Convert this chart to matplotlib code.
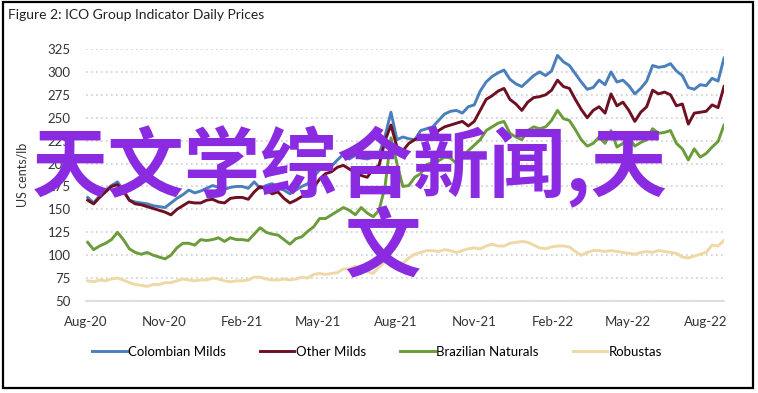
import pandas as pd
import matplotlib
matplotlib.use("Agg")
import matplotlib.pyplot as plt
import matplotlib.dates as mdates
from matplotlib.patches import Rectangle

# weekly readings of the ICO group indicator prices (US cents/lb)
start_date = "2020-08-03"

colombian = [163, 157, 165, 171, 176, 180, 171, 160, 158, 157, 156, 154, 153, 152, 157, 162,
             166, 171, 168, 170, 173, 176, 174, 172, 174, 175, 175, 173, 180, 173, 176, 178,
             174, 171, 167, 171, 175, 178, 186, 193, 199, 197, 204, 210, 205, 209, 206, 205,
             207, 210, 230, 256, 226, 229, 227, 226, 236, 238, 240, 247, 254, 257, 258, 255,
             262, 264, 279, 289, 295, 299, 302, 292, 287, 284, 290, 296, 300, 296, 301, 318,
             311, 307, 298, 289, 281, 283, 291, 286, 300, 289, 291, 285, 276, 282, 290, 307,
             305, 306, 309, 301, 296, 283, 281, 286, 285, 293, 290, 315]

other_milds = [160, 156, 163, 169, 175, 177, 170, 160, 156, 155, 153, 151, 149, 147, 144, 150,
               154, 158, 157, 157, 160, 161, 158, 157, 162, 163, 163, 161, 169, 175, 172, 167,
               169, 162, 157, 160, 164, 167, 174, 183, 189, 191, 196, 198, 194, 190, 187, 185,
               194, 198, 225, 242, 218, 214, 222, 226, 229, 228, 230, 236, 240, 242, 244, 246,
               241, 246, 258, 270, 274, 279, 282, 270, 265, 258, 267, 272, 273, 275, 280, 291,
               284, 282, 270, 259, 250, 258, 262, 255, 276, 263, 267, 258, 246, 256, 262, 280,
               276, 278, 275, 263, 265, 243, 255, 256, 257, 264, 261, 284]

brazilian = [114, 106, 110, 113, 117, 125, 117, 107, 103, 101, 103, 100, 98, 96, 100, 108,
             113, 113, 111, 117, 116, 117, 119, 115, 119, 117, 117, 116, 123, 130, 125, 123,
             122, 117, 112, 118, 120, 126, 131, 140, 140, 144, 148, 152, 149, 144, 152, 146,
             142, 149, 175, 228, 200, 175, 176, 185, 189, 199, 201, 203, 207, 206, 200, 208,
             214, 220, 226, 236, 240, 244, 246, 233, 229, 226, 236, 240, 238, 240, 247, 258,
             249, 247, 237, 226, 219, 222, 229, 222, 236, 218, 222, 229, 219, 223, 226, 238,
             233, 234, 236, 222, 216, 204, 216, 207, 211, 218, 224, 242]

robustas = [72, 71, 73, 72, 74, 75, 73, 70, 68, 67, 66, 68, 68, 70, 70, 72,
            74, 73, 72, 73, 73, 75, 74, 72, 71, 72, 72, 73, 76, 76, 74, 73,
            73, 74, 73, 74, 76, 75, 79, 80, 79, 80, 81, 85, 85, 88, 84, 82,
            80, 87, 93, 97, 93, 91, 97, 101, 103, 105, 105, 104, 106, 105, 103, 105,
            107, 108, 107, 110, 112, 110, 110, 113, 114, 115, 114, 111, 108, 107, 109, 110,
            110, 109, 104, 100, 103, 105, 105, 104, 105, 104, 103, 102, 101, 103, 104, 103,
            105, 104, 103, 102, 98, 97, 99, 101, 103, 111, 110, 116]

series_names = ["Colombian Milds", "Other Milds", "Brazilian Naturals", "Robustas"]
series_colors = ["#4a7fbc", "#6e0f22", "#6b9c3a", "#efd8a6"]

plt.rcParams["font.family"] = ["Lato", "DejaVu Sans"]

dates = pd.date_range(start_date, periods=len(colombian), freq="7D")

fig = plt.figure(figsize=(7.58, 3.93), dpi=100)
ax = fig.add_axes([86 / 758, 1 - 301 / 393, (724 - 86) / 758, (301 - 49) / 393])

for vals, name, col in zip([colombian, other_milds, brazilian, robustas], series_names, series_colors):
    ax.plot(dates, vals, color=col, linewidth=2.1, label=name)

ax.set_ylim(50, 325)
ax.set_yticks(range(50, 326, 25))
ax.set_xlim(pd.Timestamp("2020-08-01"), dates[-1])
ax.xaxis.set_major_locator(mdates.MonthLocator(bymonth=[2, 5, 8, 11]))
ax.xaxis.set_major_formatter(mdates.DateFormatter("%b-%y"))

ax.grid(axis="y", color="#d0d0d0", linestyle=(0, (1, 2)), linewidth=1.2)
ax.set_axisbelow(True)
for s in ["top", "right", "left"]:
    ax.spines[s].set_visible(False)
ax.spines["bottom"].set_color("#d9d9d9")
ax.spines["bottom"].set_linewidth(1.2)
ax.tick_params(axis="both", length=0, labelsize=9.5, colors="#333333")
ax.tick_params(axis="y", pad=11)
ax.tick_params(axis="x", pad=11)
ax.set_ylabel("US cents/lb", fontsize=9, color="#333333", labelpad=14)

fig.text(8 / 758, 1 - 15 / 393, "Figure 2: ICO Group Indicator Daily Prices",
         fontsize=10, color="#222222", va="center", ha="left")

fig.legend(loc="center", bbox_to_anchor=(377 / 758, 1 - 352 / 393), ncol=4, frameon=False,
           fontsize=9.5, handlelength=2.6, handletextpad=0.1, columnspacing=2.6)

# outer frame
fig.add_artist(Rectangle((3 / 758, 5 / 393), 750 / 758, 386 / 393, transform=fig.transFigure,
                         fill=False, edgecolor="black", linewidth=1.6))

# purple overlay text
cjk = ["Noto Sans CJK SC", "DejaVu Sans"]
fig.text(32 / 758, 1 - 167 / 393, "天文学综合新闻,天", family=cjk, fontsize=55,
         fontweight="bold", color="#8a2be2", ha="left", va="center")
fig.text(382 / 758, 1 - 249 / 393, "文", family=cjk, fontsize=55,
         fontweight="bold", color="#8a2be2", ha="center", va="center")

fig.savefig("out.png", dpi=100)
